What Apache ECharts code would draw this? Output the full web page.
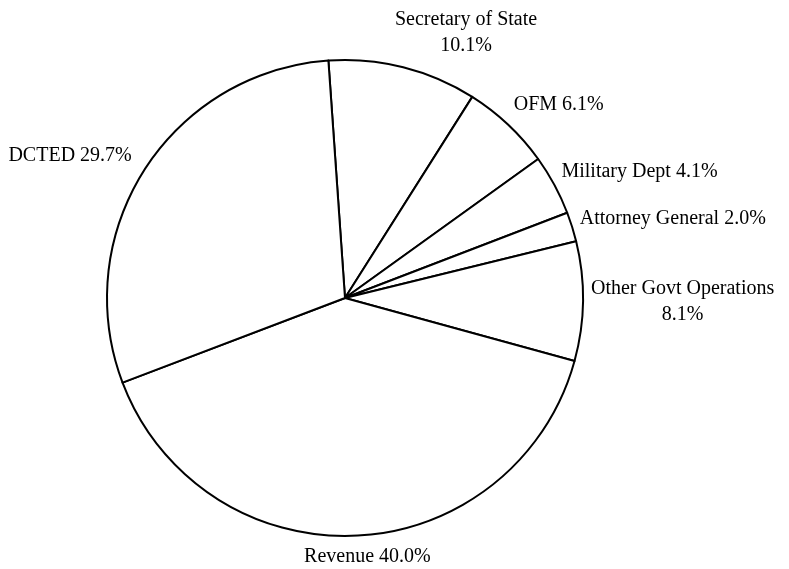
<!DOCTYPE html>
<html>
<head>
<meta charset="utf-8">
<script src="https://cdn.jsdelivr.net/npm/echarts@6/dist/echarts.min.js"></script>
<style>
html,body{margin:0;padding:0;background:#fff;}
#chart{width:789px;height:569px;}
</style>
</head>
<body>
<div id="chart"></div>
<script>
const categories = ["Secretary of State", "OFM", "Military Dept", "Attorney General", "Other Govt Operations", "Revenue", "DCTED"];
const shares = [10.1, 6.1, 4.1, 2.0, 8.1, 40.0, 29.7];
const twoLineLabels = ["Secretary of State", "Other Govt Operations"];

const CX = 345, CY = 298, R = 238, START = 94;
const total = shares.reduce((a, b) => a + b, 0);
const cum = [];
shares.reduce((acc, v, i) => { cum[i] = acc; return acc + v; }, 0);

const chart = echarts.init(document.getElementById('chart'), null, {renderer: 'canvas'});
const clamp = v => Math.max(-1, Math.min(1, v));

chart.setOption({
  animation: false,
  backgroundColor: '#fff',
  series: [{
    type: 'pie',
    center: [CX, CY],
    radius: R,
    startAngle: START,
    clockwise: true,
    avoidLabelOverlap: false,
    silent: true,
    data: categories.map((c, i) => ({name: c, value: shares[i]})),
    itemStyle: {color: '#ffffff', borderColor: '#000000', borderWidth: 2},
    emphasis: {disabled: true},
    labelLine: {show: false},
    label: {
      show: true,
      position: 'outside',
      fontFamily: '"Liberation Serif", "Times New Roman", serif',
      fontSize: 20,
      lineHeight: 26,
      color: '#000',
      align: 'center',
      formatter: p => p.name + (twoLineLabels.includes(p.name) ? '\n' : ' ') + p.value.toFixed(1) + '%'
    },
    labelLayout: params => {
      const i = params.dataIndex;
      const mid = (START - (cum[i] + shares[i] / 2) / total * 360) * Math.PI / 180;
      const c = Math.cos(mid), s = Math.sin(mid);
      const ax = CX + (R + 8) * c;
      const ay = CY - (R + 8) * s;
      const w = params.labelRect.width, h = params.labelRect.height;
      const hx = clamp(3.5 * c);
      const x = ax + (w / 2) * hx + (c < 0 ? -6 * Math.abs(hx) : 0);
      const y = ay - (s > 0 ? s * Math.min(h / 2 + 6, 28) : s * h / 2);
      return {x: x, y: y, align: 'center', verticalAlign: 'middle'};
    }
  }]
});
</script>
</body>
</html>
